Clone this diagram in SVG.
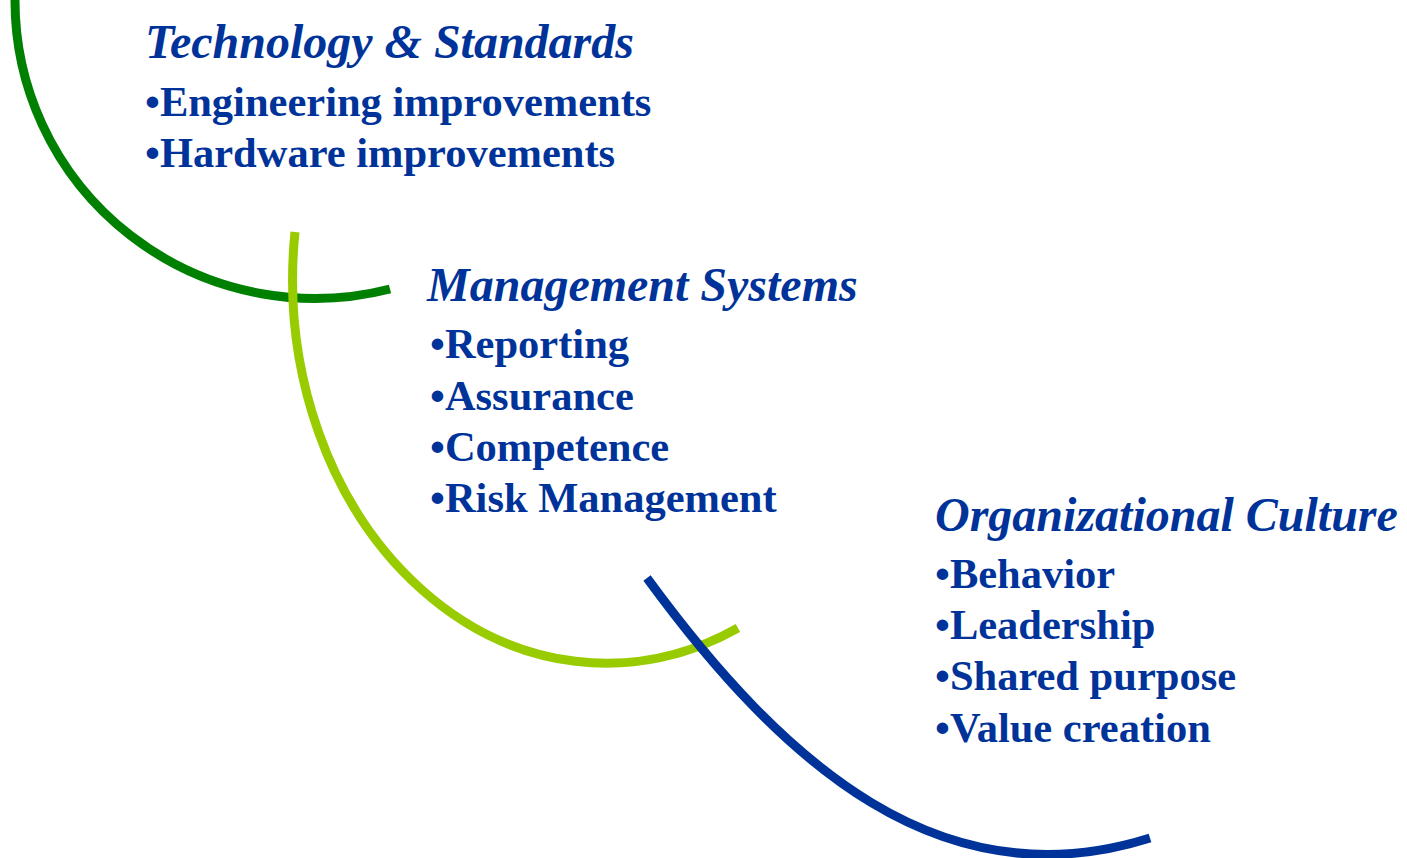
<svg xmlns="http://www.w3.org/2000/svg" width="1407" height="858" viewBox="0 0 1407 858">
<style>
.t{font-family:"Liberation Serif","Times New Roman",serif;font-weight:bold;font-style:italic;font-size:48px;fill:#003399}
.b{font-family:"Liberation Serif","Times New Roman",serif;font-weight:bold;font-size:42.5px;fill:#003399}
.arc{fill:none;stroke-width:9}
</style>
<rect width="1407" height="858" fill="#ffffff"/>
<g id="connectors">
<path class="arc" stroke="#008000" d="M 15 0 A 300 298 0 0 0 390 289"/>
<path class="arc" stroke="#99CC00" d="M 295 232 A 314 384 0 0 0 738 628"/>
<path class="arc" stroke="#003399" d="M 647 578 C 783 764 941 904 1150 838"/>
</g>
<g id="technology">
<text class="t" x="145" y="58">Technology &amp; Standards</text>
<text class="b" x="145" y="116">•Engineering improvements</text>
<text class="b" x="145" y="167">•Hardware improvements</text>
</g>
<g id="management">
<text class="t" x="427" y="301">Management Systems</text>
<text class="b" x="430" y="358">•Reporting</text>
<text class="b" x="430" y="410">•Assurance</text>
<text class="b" x="430" y="461">•Competence</text>
<text class="b" x="430" y="512">•Risk Management</text>
</g>
<g id="culture">
<text class="t" x="935" y="531">Organizational Culture</text>
<text class="b" x="935" y="588">•Behavior</text>
<text class="b" x="935" y="639">•Leadership</text>
<text class="b" x="935" y="690">•Shared purpose</text>
<text class="b" x="935" y="742">•Value creation</text>
</g>
</svg>
